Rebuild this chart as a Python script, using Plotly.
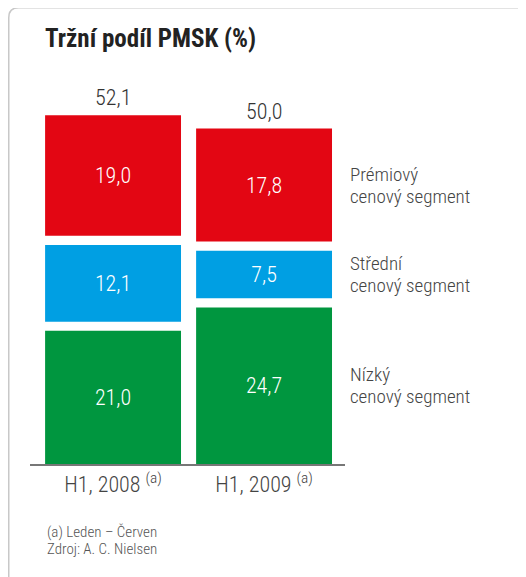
import plotly.graph_objects as go

periods = ["H1, 2008 <sup>(a)</sup>", "H1, 2009 <sup>(a)</sup>"]
low = [21.0, 24.7]
mid = [12.1, 7.5]
premium = [19.0, 17.8]
series = [low, mid, premium]
colors = ["#00963F", "#009FE3", "#E30613"]
side_labels = ["Nízký", "Střední", "Prémiový"]

FONT = "Liberation Sans Narrow, Roboto Condensed, Arial Narrow, Roboto, sans-serif"
gap = 1.45  # white space between stacked blocks, in data units

def fmt(v):
    return f"{v:.1f}".replace(".", ",")

# the page puts the figure 8px in from the corner; positions below are page pixels
OFF = 8
W, H = 526 - OFF, 577 - OFF
L, R, T, B = 30 - OFF, W - (345 - OFF), 80 - OFF, H - (464 - OFF)
pw, ph = W - L - R, H - T - B

def px_x(p):
    return (p - OFF - L) / pw

def px_y(p):
    return (H - B - (p - OFF)) / ph

fig = go.Figure()

bases = [0.0, 0.0]
for i, vals in enumerate(series):
    fig.add_trace(go.Bar(
        x=periods, y=vals, base=list(bases), width=0.9,
        marker=dict(color=colors[i], line=dict(width=0)),
        text=[fmt(v) for v in vals], textposition="inside",
        insidetextanchor="middle",
        textfont=dict(color="white", size=22, family=FONT, weight=300),
        showlegend=False, hoverinfo="skip",
    ))
    # side label next to the second bar
    centre = bases[1] + vals[1] / 2
    for line, shift in [(side_labels[i], 11), ("cenový segment", -11)]:
        fig.add_annotation(x=px_x(348), xref="paper", y=centre, yref="y",
                           text=line, showarrow=False, xanchor="left",
                           yanchor="middle", yshift=shift,
                           font=dict(size=19, color="#444", family=FONT, weight=300))
    bases = [b + v + gap for b, v in zip(bases, vals)]

totals = [a + b + c for a, b, c in zip(low, mid, premium)]
for p, t, top in zip(periods, totals, bases):
    fig.add_annotation(x=p, y=top - gap, text=fmt(t), showarrow=False,
                       yanchor="bottom", yshift=3,
                       font=dict(size=22, color="#333", family=FONT, weight=300))

# notes
for text, y in [("(a) Leden – Červen", 532), ("Zdroj: A. C. Nielsen", 549)]:
    fig.add_annotation(x=px_x(45), xref="paper", y=px_y(y), yref="paper",
                       text=text, showarrow=False, xanchor="left",
                       yanchor="middle",
                       font=dict(size=15, color="#555", family=FONT, weight=300))

# rounded frame (only top-left corner visible)
x0, y0 = px_x(8.75), px_y(7.75)
x1, y1 = px_x(600), px_y(650)
rx, ry = 10 / pw, 10 / ph
fig.add_shape(type="path", xref="paper", yref="paper",
              path=f"M {x0},{y1} L {x0},{y0 - ry} Q {x0},{y0} {x0 + rx},{y0} L {x1},{y0}",
              line=dict(color="#c8c8c8", width=1.5))

fig.update_layout(
    width=W, height=H,
    margin=dict(l=L, r=R, t=T, b=B),
    barmode="overlay",
    plot_bgcolor="white", paper_bgcolor="white",
    title=dict(text="<b>Tržní podíl PMSK (%)</b>", x=(45 - OFF) / W, xref="container",
               xanchor="left", y=1 - (38 - OFF) / H, yref="container", yanchor="middle",
               font=dict(size=25, color="#222", family=FONT)),
    xaxis=dict(type="category", range=[-0.55, 1.536], showline=True,
               linecolor="#777", linewidth=1.5, showgrid=False, ticks="",
               tickfont=dict(size=22, color="#444", family=FONT, weight=300),
               fixedrange=True),
    yaxis=dict(range=[0, ph / 6.34], visible=False, showgrid=False, fixedrange=True),
)

fig.write_html("out.html")
